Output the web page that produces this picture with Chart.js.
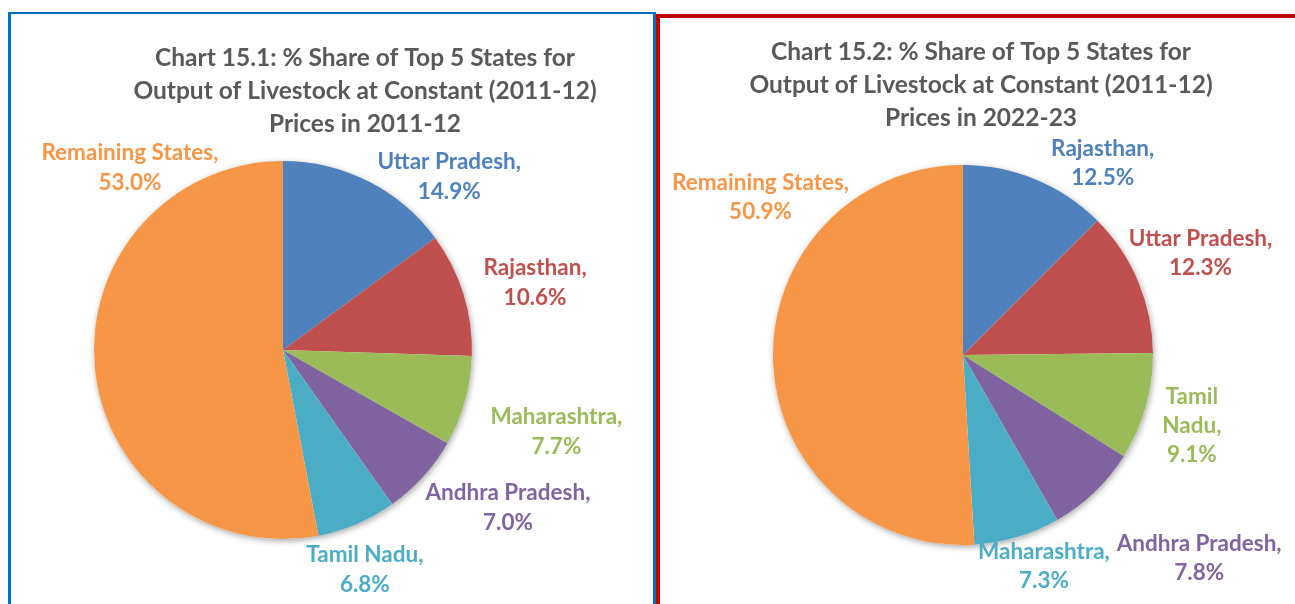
<!DOCTYPE html>
<html>
<head>
<meta charset="utf-8">
<script src="https://cdn.jsdelivr.net/npm/chart.js@4.4.1/dist/chart.umd.min.js"></script>
<style>
  body { margin: 0; background: #fff; overflow: hidden; width: 1295px; height: 604px; position: relative; }
  .panel { position: absolute; box-sizing: border-box; }
  #box1 { left: 8px; top: 12px; width: 648px; height: 700px; border: 3px solid #0070C0; border-top-width: 2px; }
  #box2 { left: 656px; top: 14px; width: 700px; height: 700px; border: 4px solid #C00000; }
  canvas { position: absolute; top: 0; }
  #chart1 { left: 0; }
  #chart2 { left: 655px; }
</style>
</head>
<body>
<div class="panel" id="box1"></div>
<div class="panel" id="box2"></div>
<canvas id="chart1" width="655" height="604"></canvas>
<canvas id="chart2" width="640" height="604"></canvas>
<script>
// Data: shares of livestock output, clockwise from 12 o'clock
const states2011 = ['Uttar Pradesh', 'Rajasthan', 'Maharashtra', 'Andhra Pradesh', 'Tamil Nadu', 'Remaining States'];
const shares2011 = [14.9, 10.6, 7.7, 7.0, 6.8, 53.0];

const states2023 = ['Rajasthan', 'Uttar Pradesh', 'Tamil Nadu', 'Andhra Pradesh', 'Maharashtra', 'Remaining States'];
const shares2023 = [12.5, 12.3, 9.1, 7.8, 7.3, 50.9];

const title2011 = ['Chart 15.1: % Share of Top 5 States for', 'Output of Livestock at Constant (2011-12)', 'Prices in 2011-12'];
const title2023 = ['Chart 15.2: % Share of Top 5 States for', 'Output of Livestock at Constant (2011-12)', 'Prices in 2022-23'];

const sliceColors = ['#4F81BD', '#C0504D', '#9BBB59', '#8064A2', '#4BACC6', '#F79646'];

const FONT = 'Lato, "Noto Sans", sans-serif';

// Label placement around each slice: angle shift (deg) from mid-angle, distance as ratio of radius
const labelShift2011 = [17, 2.4, 1, -7, 2.6, 55.4];
const labelDist2011 = [1.27, 1.38, 1.51, 1.455, 1.24, 1.26];
const labelShift2023 = [13.5, -0.4, 1.3, -5.5, -4.4, 39.6];
const labelDist2023 = [1.25, 1.36, 1.26, 1.64, 1.19, 1.35];

// Soft shadow behind the whole pie, drawn once
const pieShadow = {
    id: 'pieShadow',
    beforeDatasetsDraw(chart) {
        const arc = chart.getDatasetMeta(0).data[0];
        if (!arc) return;
        const { x, y, outerRadius } = arc.getProps(['x', 'y', 'outerRadius'], true);
        const ctx = chart.ctx;
        ctx.save();
        ctx.shadowColor = 'rgba(0,0,0,0.35)';
        ctx.shadowBlur = 6;
        ctx.shadowOffsetX = 1;
        ctx.shadowOffsetY = 2;
        ctx.fillStyle = '#fff';
        ctx.beginPath();
        ctx.arc(x, y, outerRadius, 0, Math.PI * 2);
        ctx.fill();
        ctx.restore();
    }
};

// Title lines and coloured data labels
const pieText = {
    id: 'pieText',
    afterDatasetsDraw(chart, args, opts) {
        const ctx = chart.ctx;
        ctx.save();
        ctx.textAlign = 'center';
        ctx.textBaseline = 'middle';

        ctx.fillStyle = '#595959';
        ctx.font = `bold ${opts.titleSize}px ${FONT}`;
        opts.title.forEach((line, i) => {
            ctx.fillText(line, opts.titleX, opts.titleY + i * opts.titleGap);
        });

        ctx.font = `bold ${opts.labelSize}px ${FONT}`;
        const meta = chart.getDatasetMeta(0);
        const data = chart.data.datasets[0].data;
        meta.data.forEach((arc, i) => {
            const p = arc.getProps(['x', 'y', 'startAngle', 'endAngle', 'outerRadius'], true);
            const a = (p.startAngle + p.endAngle) / 2 + opts.shift[i] * Math.PI / 180;
            const d = p.outerRadius * opts.dist[i];
            const lx = p.x + d * Math.cos(a);
            const ly = p.y + d * Math.sin(a);
            const name = chart.data.labels[i] + ',';
            let lines = [name, data[i].toFixed(1) + '%'];
            if (opts.wrap && opts.wrap.includes(i)) lines = name.split(' ').concat([data[i].toFixed(1) + '%']);
            const top = ly - (lines.length - 1) * opts.labelGap / 2;
            ctx.fillStyle = sliceColors[i];
            lines.forEach((t, k) => ctx.fillText(t, lx, top + k * opts.labelGap));
        });
        ctx.restore();
    }
};

function makePie(id, labels, values, padding, text) {
    return new Chart(document.getElementById(id), {
        type: 'pie',
        data: {
            labels: labels,
            datasets: [{
                data: values,
                backgroundColor: sliceColors,
                borderWidth: 0,
                hoverOffset: 0
            }]
        },
        options: {
            responsive: false,
            animation: false,
            layout: { padding: padding },
            plugins: {
                legend: { display: false },
                title: { display: false },
                tooltip: { enabled: false },
                pieText: text
            }
        },
        plugins: [pieShadow, pieText]
    });
}

makePie('chart1', states2011, shares2011,
    { left: 94, top: 161, right: 183, bottom: 65 },
    {
        title: title2011, titleX: 365, titleY: 58, titleGap: 33, titleSize: 24.5,
        labelSize: 22.5, labelGap: 30,
        shift: labelShift2011, dist: labelDist2011
    });

makePie('chart2', states2023, shares2023,
    { left: 118, top: 165, right: 142, bottom: 59 },
    {
        title: title2023, titleX: 326, titleY: 52, titleGap: 33, titleSize: 24.5,
        labelSize: 22.5, labelGap: 29,
        shift: labelShift2023, dist: labelDist2023, wrap: [2]
    });
</script>
</body>
</html>
